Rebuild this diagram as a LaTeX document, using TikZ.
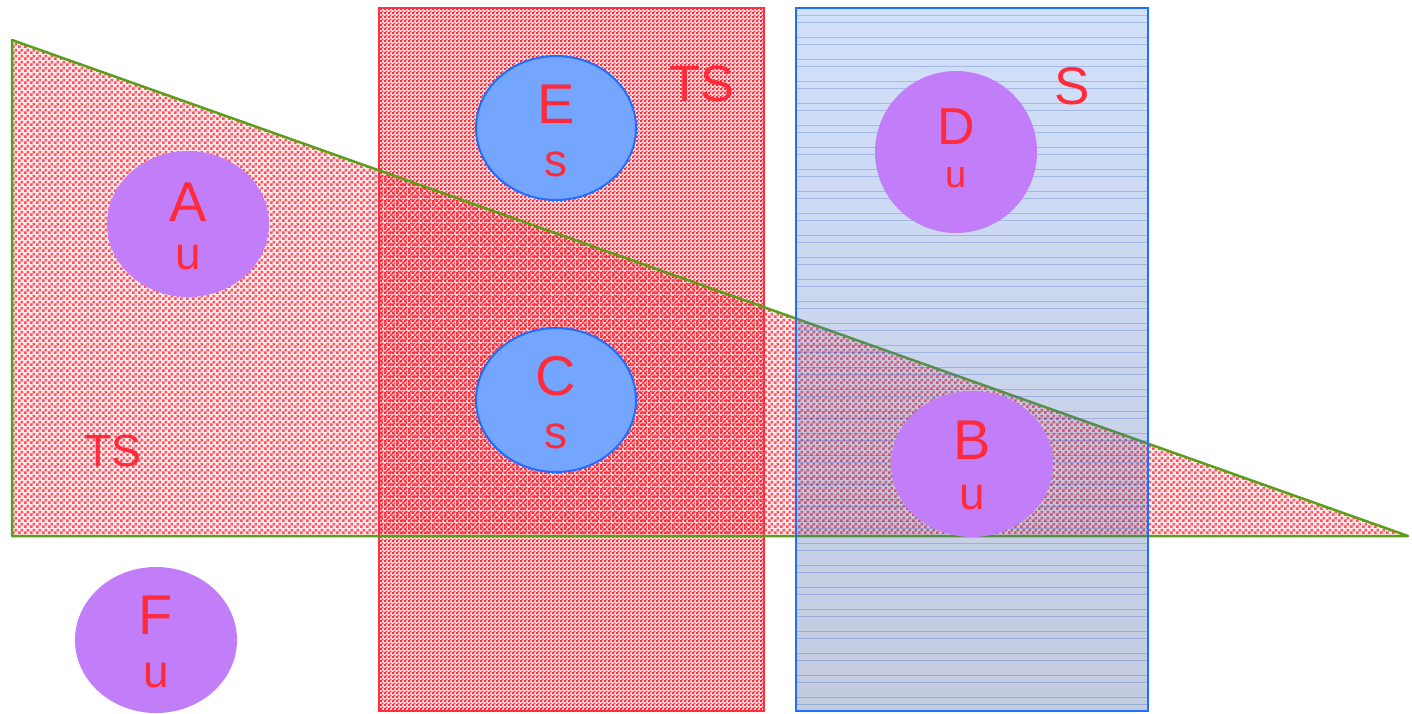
\documentclass[tikz,border=0pt]{standalone}
\usepackage{fontspec}
\setmainfont{Liberation Sans}
\usetikzlibrary{shapes.geometric,patterns,calc}
\definecolor{txtred}{HTML}{FF2A3A}
\definecolor{patred}{HTML}{FF2A3A}
\definecolor{rectred}{HTML}{FF3040}
\definecolor{trigreen}{HTML}{5A9E1A}
\definecolor{bluestroke}{HTML}{1E6EFF}
\definecolor{bluefill}{HTML}{74A5FF}
\definecolor{purp}{HTML}{C27EF8}
\definecolor{shadetop}{RGB}{105,152,242}
\definecolor{shadebot}{RGB}{55,82,148}
\definecolor{hline}{RGB}{60,100,200}
\pgfdeclarepatternformonly{finechecker}{\pgfqpoint{0pt}{0pt}}{\pgfqpoint{4pt}{4pt}}{\pgfqpoint{4pt}{4pt}}{%
  \pgfpathrectangle{\pgfqpoint{0pt}{0pt}}{\pgfqpoint{2.2pt}{2.2pt}}%
  \pgfpathrectangle{\pgfqpoint{2pt}{2pt}}{\pgfqpoint{2.2pt}{2.2pt}}%
  \pgfusepath{fill}}
\pgfdeclarepatternformonly{crossdots}{\pgfqpoint{0pt}{0pt}}{\pgfqpoint{6pt}{6pt}}{\pgfqpoint{6pt}{6pt}}{%
  \pgfpathrectangle{\pgfqpoint{0pt}{0pt}}{\pgfqpoint{3pt}{3pt}}%
  \pgfpathrectangle{\pgfqpoint{3pt}{3pt}}{\pgfqpoint{3pt}{3pt}}%
  \pgfusepath{fill}}
\tikzset{
  bigtxt/.style={text=txtred, inner sep=0pt, font=\fontsize{56}{60}\selectfont},
  smalltxt/.style={text=txtred, inner sep=0pt, font=\fontsize{46}{50}\selectfont},
  purpleblob/.style={ellipse, fill=purp, draw=none, inner sep=0pt, minimum width=162pt, minimum height=146pt},
  blueblob/.style={ellipse, fill=bluefill, draw=bluestroke, line width=2pt, inner sep=0pt, minimum width=160pt, minimum height=144pt},
}
\begin{document}
\begin{tikzpicture}[x=1pt,y=-1pt]
\useasboundingbox (0,0) rectangle (1412,713);
% red rectangle
\coordinate (rtl) at (379,8);
\coordinate (rbr) at (764,711);
\fill[patred!12] (rtl) rectangle (rbr);
\fill[pattern=finechecker, pattern color=patred] (rtl) rectangle (rbr);
\draw[rectred, line width=2.5pt] (rtl) rectangle (rbr);
% triangle
\coordinate (t1) at (12,40);
\coordinate (t2) at (12,536);
\coordinate (t3) at (1408,536);
\begin{scope}
  \clip (0,0) -| (379,713) -| (1412,0) -| (764,713) -| (0,0) -- cycle;
  \fill[patred, fill opacity=0.1] (t1) -- (t2) -- (t3) -- cycle;
\end{scope}
\fill[pattern=crossdots, pattern color=patred, fill opacity=0.8] (t1) -- (t2) -- (t3) -- cycle;
\draw[trigreen, line width=2.5pt, line join=round] (t1) -- (t2) -- (t3) -- cycle;
% blue rectangle
\coordinate (btl) at (796,8);
\coordinate (bbr) at (1148,711);
\shade[top color=shadetop, bottom color=shadebot, fill opacity=0.3] (btl) rectangle (bbr);
\foreach \k in {0,...,31}{
  \pgfmathsetmacro{\ya}{15+22*\k}
  \pgfmathsetmacro{\yb}{22+22*\k}
  \draw[hline, draw opacity=0.3, line width=1pt] (797,\ya) -- (1147,\ya);
  \ifdim \yb pt<710pt \draw[hline, draw opacity=0.3, line width=1pt] (797,\yb) -- (1147,\yb);\fi
}
\draw[bluestroke, line width=2.5pt] (btl) rectangle (bbr);
% ellipses
\node[purpleblob] (A) at (188,224) {};
\node[blueblob] (E) at (556,128) {};
\node[blueblob] (C) at (556,400) {};
\node[purpleblob, minimum height=162pt] (D) at (956,152) {};
\node[purpleblob] (B) at (972,464) {};
\node[purpleblob] (F) at (156,640) {};
% labels
\node[bigtxt] (Al) at ($(A)+(0,-22)$) {A};
\node[smalltxt] (Au) at ($(A)+(0,34)$) {u};
\node[bigtxt] (El) at ($(E)+(0,-24)$) {E};
\node[smalltxt] (Es) at ($(E)+(0,36)$) {s};
\node[bigtxt] (Cl) at ($(C)+(0,-24)$) {C};
\node[smalltxt] (Cs) at ($(C)+(0,36)$) {s};
\node[bigtxt, font=\fontsize{52}{56}\selectfont] (Dl) at ($(D)+(0,-25)$) {D};
\node[smalltxt, font=\fontsize{38}{42}\selectfont] (Du) at ($(D)+(0,26)$) {u};
\node[bigtxt] (Bl) at ($(B)+(0,-24)$) {B};
\node[smalltxt] (Bu) at ($(B)+(0,34)$) {u};
\node[bigtxt] (Fl) at ($(F)+(0,-25)$) {F};
\node[smalltxt] (Fu) at ($(F)+(0,36)$) {u};
\node[text=txtred, inner sep=0pt, font=\fontsize{45}{50}\selectfont] (TS1) at (113,451) {TS};
\node[text=txtred, inner sep=0pt, font=\fontsize{51}{55}\selectfont] (TS2) at (702,84) {TS};
\node[text=txtred, inner sep=0pt, font=\fontsize{53}{57}\selectfont] (S) at (1072,86) {S};
\end{tikzpicture}
\end{document}
